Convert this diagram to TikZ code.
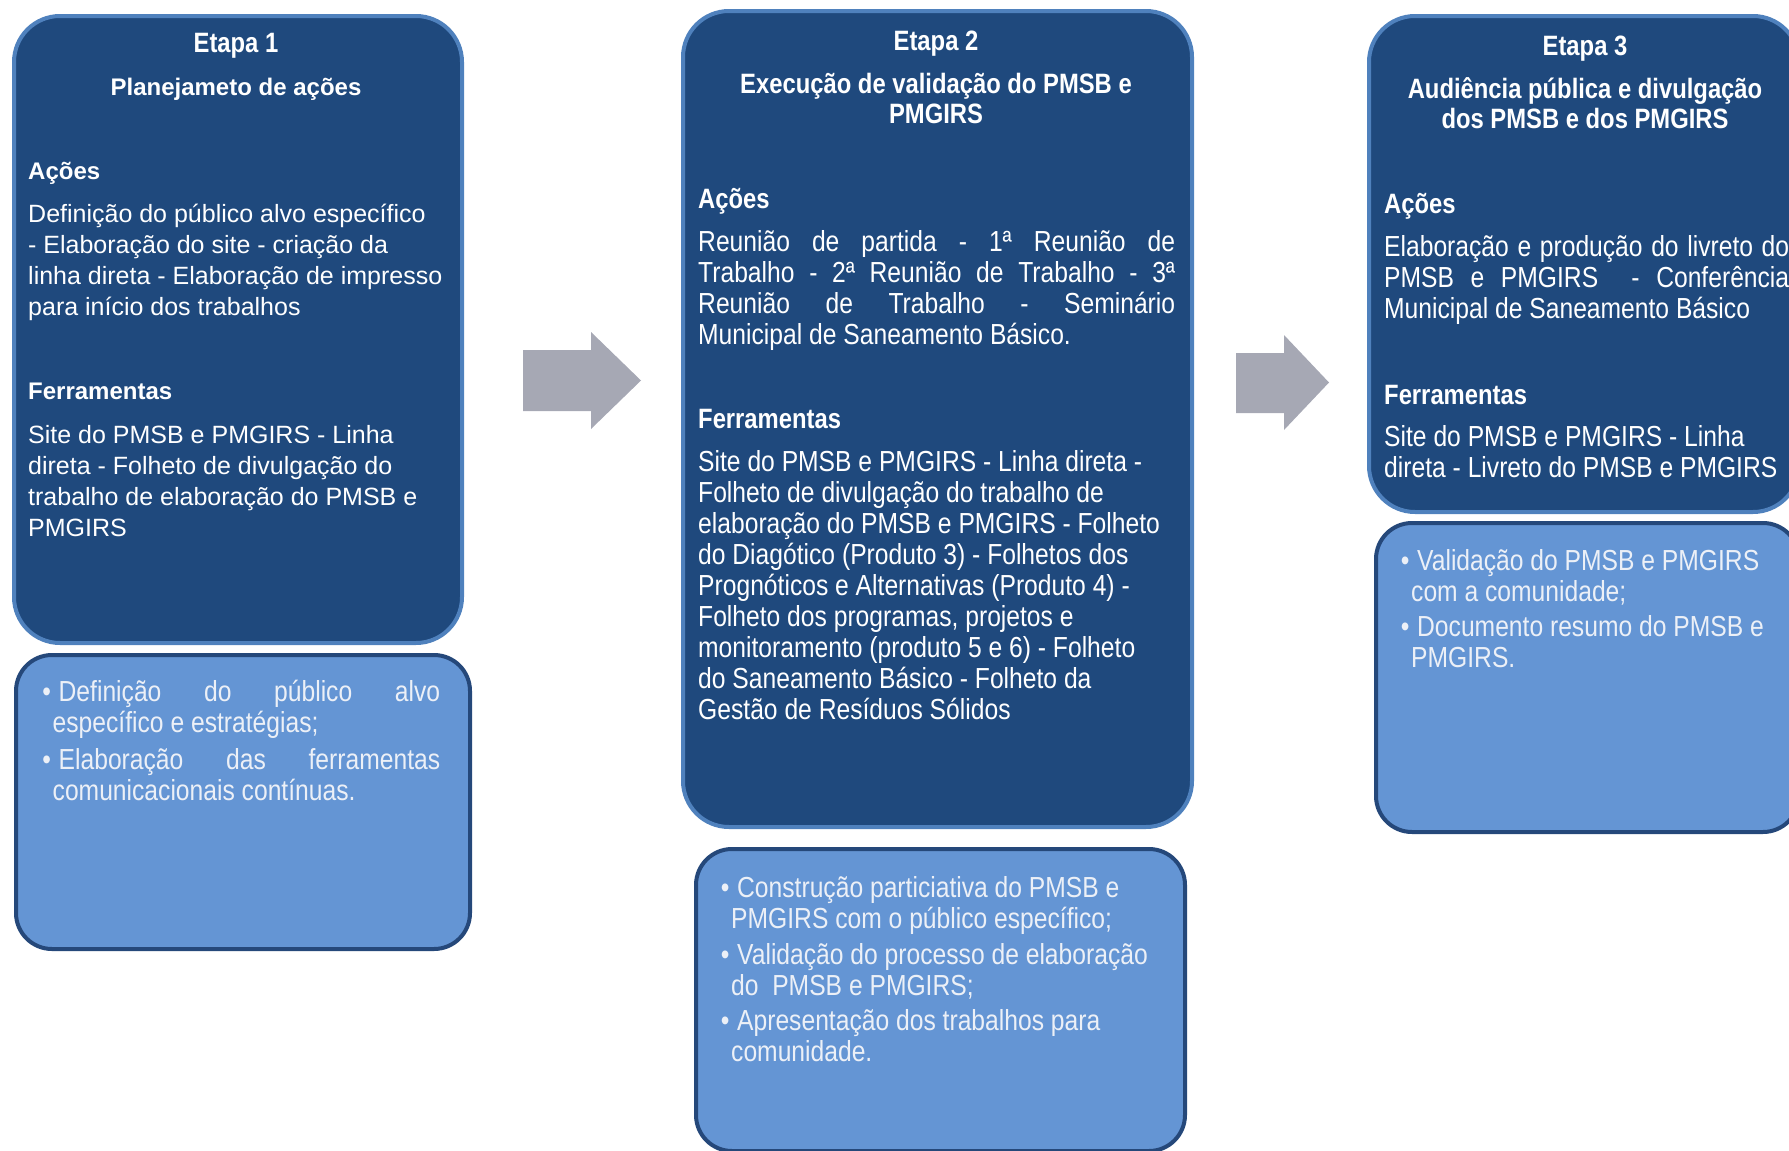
\documentclass[tikz,border=0pt]{standalone}
\usepackage{fontspec}
\setmainfont{Liberation Sans}
\newfontfamily\narrowfont[FakeStretch=0.85]{Liberation Sans}
\usepackage{tikz}

\definecolor{fundoescuro}{RGB}{31,73,125}
\definecolor{bordaclara}{RGB}{79,129,189}
\definecolor{fundoclaro}{RGB}{100,149,212}
\definecolor{bordaescura}{RGB}{37,72,122}
\definecolor{setacinza}{RGB}{166,168,180}
\definecolor{textoclaro}{RGB}{236,240,247}

\tikzset{
  etapabox/.style={draw=bordaclara, fill=fundoescuro, line width=4pt, rounded corners=46pt, anchor=north west, inner sep=0pt},
  objbox/.style={draw=bordaescura, fill=fundoclaro, line width=4pt, rounded corners=36pt, anchor=north west, inner sep=0pt},
  etapanum/.style={anchor=north, inner sep=0pt, text=white, font=\narrowfont\bfseries\fontsize{28}{31}\selectfont},
  titulo/.style={anchor=north, inner sep=0pt, text=white, align=center, font=\narrowfont\bfseries\fontsize{28}{30}\selectfont},
  secao/.style={anchor=north west, inner sep=0pt, text=white, font=\narrowfont\bfseries\fontsize{28}{31}\selectfont},
  corpo/.style={anchor=north west, inner sep=0pt, text=white, align=left, font=\narrowfont\fontsize{29}{31}\selectfont},
  corpojust/.style={corpo, align=justify},
  topico/.style={anchor=north west, inner sep=0pt, text=textoclaro, align=left, font=\narrowfont\fontsize{29}{31}\selectfont}
}
\newcommand{\marca}{\strut\hspace*{-6pt}\makebox[0pt]{\textbullet}\hspace*{12pt}}

\begin{document}
\begin{tikzpicture}[x=1pt,y=-1pt]
\useasboundingbox (0,0) rectangle (1789,1151);
\clip (0,0) rectangle (1789,1151);

\node[etapabox, minimum width=448pt, minimum height=627pt] (etapa1) at (12,14) {};
\node[objbox, minimum width=454pt, minimum height=294pt] (obj1) at (14,653) {};
\node[etapabox, minimum width=509pt, minimum height=816pt] (etapa2) at (681,9) {};
\node[objbox, minimum width=489pt, minimum height=302pt] (obj2) at (694,847) {};
\node[etapabox, minimum width=430pt, minimum height=496pt] (etapa3) at (1367,14) {};
\node[objbox, minimum width=423pt, minimum height=309pt] (obj3) at (1374,521) {};

\fill[setacinza] (523,350) -- (591,350) -- (591,332) -- (641,380.5) -- (591,429) -- (591,411) -- (523,411) -- cycle;
\fill[setacinza] (1236,353) -- (1284,353) -- (1284,335) -- (1329,382.5) -- (1284,430) -- (1284,413) -- (1236,413) -- cycle;

\node[etapanum] (e1) at (236,30.4) {\strut Etapa 1};
\node[titulo, font=\bfseries\fontsize{24}{31}\selectfont] (t1) at (236,74) {\strut Planejameto de ações};
\node[secao, font=\bfseries\fontsize{24}{31}\selectfont] (a1h) at (28,158) {\strut Ações};
\node[corpo, font=\fontsize{25}{31}\selectfont] (a1) at (28,201) {\strut Definição do público alvo específico\\- Elaboração do site - criação da\\linha direta - Elaboração de impresso\\para início dos trabalhos};
\node[secao, font=\bfseries\fontsize{24}{31}\selectfont] (f1h) at (28,378) {\strut Ferramentas};
\node[corpo, font=\fontsize{25}{31}\selectfont] (f1) at (28,422) {\strut Site do PMSB e PMGIRS - Linha\\direta - Folheto de divulgação do\\trabalho de elaboração do PMSB e\\PMGIRS};

\node[topico, align=justify, text width=387.5pt] (o11) at (52.5,679.7) {\noindent\marca Definição do público alvo\linebreak específico e estratégias;};
\node[topico, align=justify, text width=387.5pt] (o12) at (52.5,747.7) {\noindent\marca Elaboração das ferramentas\linebreak comunicacionais contínuas.};

\node[etapanum] (e2) at (936,28.4) {\strut Etapa 2};
\node[titulo] (t2) at (936,72.1) {\strut Execução de validação do PMSB e\\PMGIRS};
\node[secao] (a2h) at (698,186.4) {\strut Ações};
\node[corpojust, text width=477pt] (a2) at (698,229.7) {\noindent\strut Reunião de partida - 1ª Reunião de\linebreak Trabalho - 2ª Reunião de Trabalho - 3ª\linebreak Reunião de Trabalho - Seminário\linebreak Municipal de Saneamento Básico.};
\node[secao] (f2h) at (698,406.4) {\strut Ferramentas};
\node[corpo] (f2) at (698,449.7) {\strut Site do PMSB e PMGIRS - Linha direta -\\Folheto de divulgação do trabalho de\\elaboração do PMSB e PMGIRS - Folheto\\do Diagótico (Produto 3) - Folhetos dos\\Prognóticos e Alternativas (Produto 4) -\\Folheto dos programas, projetos e\\monitoramento (produto 5 e 6) - Folheto\\do Saneamento Básico - Folheto da\\Gestão de Resíduos Sólidos};

\node[topico] (o21) at (731,875.7) {\marca Construção particiativa do PMSB e\\PMGIRS com o público específico;};
\node[topico] (o22) at (731,942.7) {\marca Validação do processo de elaboração\\do\ \ PMSB e PMGIRS;};
\node[topico] (o23) at (731,1008.7) {\marca Apresentação dos trabalhos para\\comunidade.};

\node[etapanum] (e3) at (1585,33.4) {\strut Etapa 3};
\node[titulo] (t3) at (1585,77.1) {\strut Audiência pública e divulgação\\dos PMSB e dos PMGIRS};
\node[secao] (a3h) at (1384,191.4) {\strut Ações};
\node[corpojust, text width=405pt] (a3) at (1384,234.7) {\noindent\strut Elaboração e produção do livreto do\linebreak PMSB e PMGIRS\ \ - Conferência\linebreak Municipal de Saneamento Básico};
\node[secao] (f3h) at (1384,382.4) {\strut Ferramentas};
\node[corpo] (f3) at (1384,424.7) {\strut Site do PMSB e PMGIRS - Linha\\direta - Livreto do PMSB e PMGIRS};

\node[topico] (o31) at (1411,548.7) {\marca Validação do PMSB e PMGIRS\\com a comunidade;};
\node[topico] (o32) at (1411,614.7) {\marca Documento resumo do PMSB e\\PMGIRS.};
\end{tikzpicture}
\end{document}
